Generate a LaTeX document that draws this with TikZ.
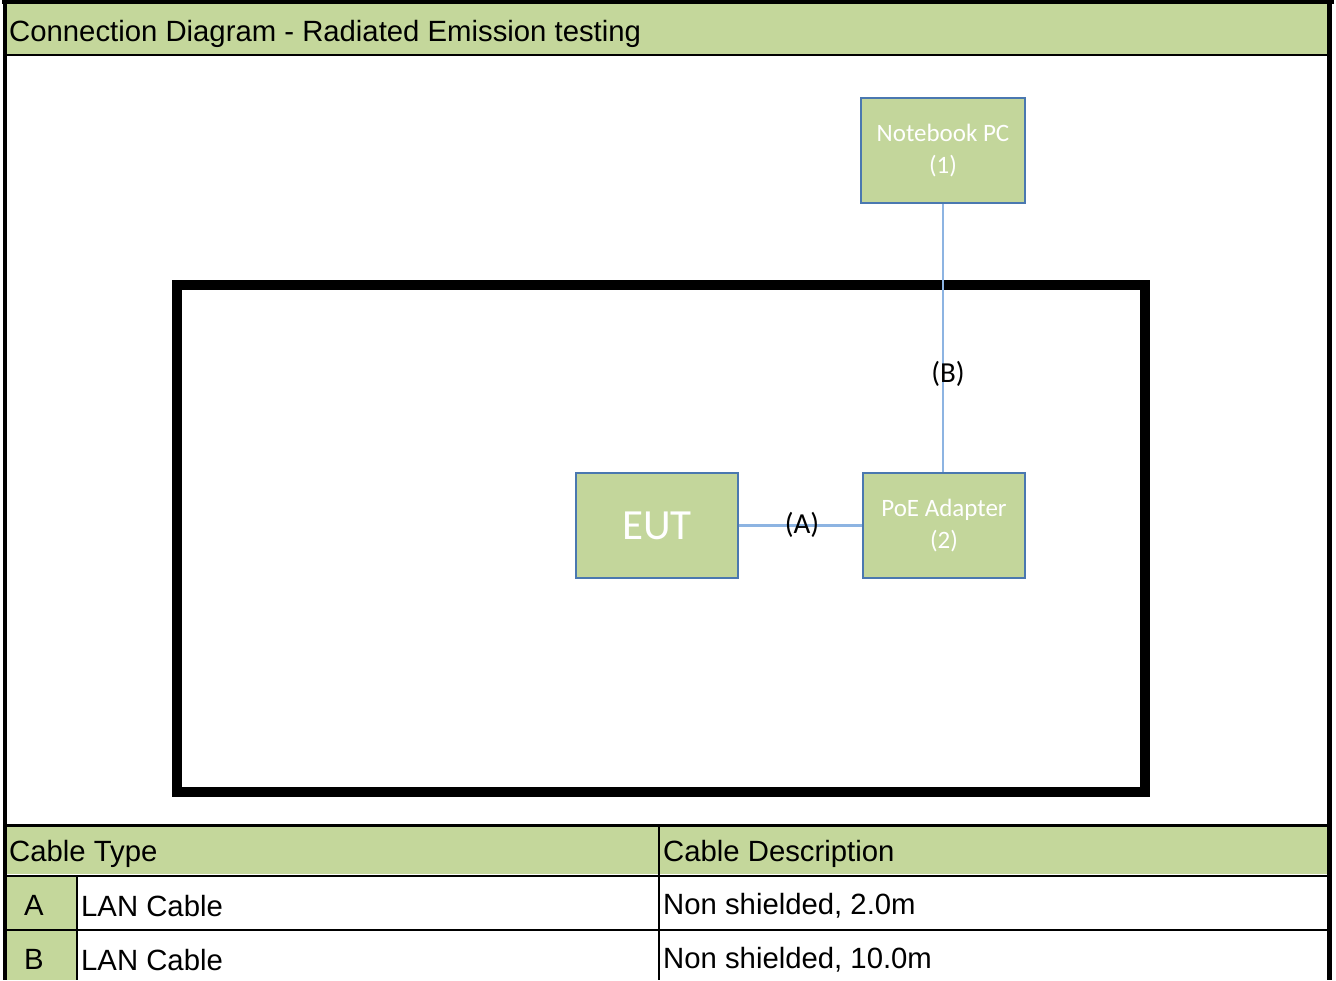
\documentclass[tikz,border=0pt]{standalone}
\usepackage{fontspec}
\setmainfont{Liberation Sans}
\newfontfamily\calib{Carlito}
\definecolor{hdrgreen}{RGB}{196,215,155}
\definecolor{boxgreen}{RGB}{195,214,155}
\definecolor{boxedge}{RGB}{74,120,176}
\definecolor{cable}{RGB}{141,180,226}
\tikzset{
  dev/.style={draw=boxedge, line width=1.6pt, fill=boxgreen, minimum width=162pt, minimum height=105pt, inner sep=0pt, align=center, text=white, font=\calib\fontsize{25}{32}\selectfont},
  cbl/.style={draw=cable, line width=2.2pt},
  clabel/.style={inner sep=0pt, font=\calib\fontsize{29}{32}\selectfont},
  ttxt/.style={inner sep=0pt, anchor=west, font=\fontsize{29.3}{33}\selectfont},
  rule/.style={line width=2.2pt, black}
}
\begin{document}
\begin{tikzpicture}[x=1pt,y=-1pt]
\useasboundingbox (0,0) rectangle (1336,980);
\fill[white] (0,0) rectangle (1336,980);
% title band
\fill[hdrgreen] (7,3) rectangle (1327,54);
\node[ttxt] (title) at (9,33.5) {Connection Diagram - Radiated Emission testing};
% table fills
\fill[hdrgreen] (7,827) rectangle (1327,874);
\fill[hdrgreen] (7,877) rectangle (76,929);
\fill[hdrgreen] (7,931) rectangle (76,980);
% frame lines
\draw[line width=3.5pt] (2,1.75) -- (1334,1.75);
\draw[line width=4.5pt] (5,0) -- (5,980);
\draw[line width=4.5pt] (1329.5,0) -- (1329.5,980);
\draw[line width=2.8pt] (7,55) -- (1327,55);
\draw[line width=2.8pt] (7,825.5) -- (1327,825.5);
\draw[rule] (7,875.8) -- (1327,875.8);
\draw[rule] (7,930) -- (1327,930);
\draw[rule] (77,876) -- (77,980);
\draw[rule] (659,826) -- (659,980);
% table texts
\node[ttxt] (h1) at (9,853.5) {Cable Type};
\node[ttxt] (h2) at (663,853.5) {Cable Description};
\node[inner sep=0pt, font=\fontsize{29.3}{33}\selectfont] (ka) at (34,905) {A};
\node[inner sep=0pt, font=\fontsize{29.3}{33}\selectfont] (kb) at (34,959) {B};
\node[ttxt] (ta) at (81,906) {LAN Cable};
\node[ttxt] (tb) at (81,960) {LAN Cable};
\node[ttxt] (da) at (663,906) {Non shielded, 2.0m};
\node[ttxt] (db) at (663,960) {Non shielded, 10.0m};
% chamber
\draw[line width=10pt] (177,285) rectangle (1145,792);
% devices
\node[dev, minimum width=164pt] (nb) at (943,150.5) {Notebook PC\\(1)};
\node[dev] (poe) at (944,525.5) {PoE Adapter\\(2)};
\node[dev, font=\calib\fontsize{43}{46}\selectfont] (eut) at (657,525.5) {EUT};
% cables
\draw[cbl] (eut.east) -- (poe.west);
\draw[cbl] (nb.south) -- (nb.south |- poe.north);
\node[clabel] (la) at (802,525) {(A)};
\node[clabel] (lb) at (948,374) {(B)};
\end{tikzpicture}
\end{document}
